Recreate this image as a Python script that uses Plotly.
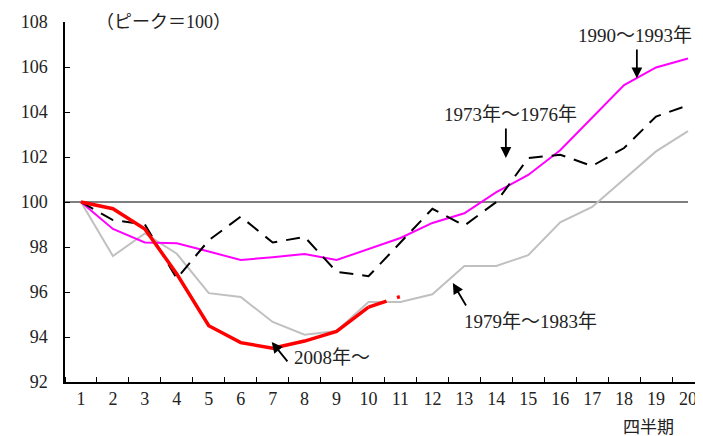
import plotly.graph_objects as go

quarters = list(range(1, 21))
tick_labels = [str(q) for q in quarters]
y_ticks = [92, 94, 96, 98, 100, 102, 104, 106, 108]

s1973 = [100, 99.2, 99.0, 96.6, 98.3, 99.35, 98.2, 98.45, 96.9, 96.7,
         98.2, 99.7, 98.95, 100.0, 101.95, 102.1, 101.6, 102.4, 103.8, 104.3]
s1979 = [100, 97.6, 98.6, 97.7, 95.95, 95.78, 94.67, 94.1, 94.27, 95.56,
         95.56, 95.9, 97.16, 97.16, 97.64, 99.1, 99.78, 101.0, 102.25, 103.15]
s1990 = [100, 98.8, 98.2, 98.17, 97.8, 97.42, 97.55, 97.69, 97.42, 97.9,
         98.4, 99.07, 99.5, 100.44, 101.2, 102.3, 103.75, 105.2, 105.98, 106.38]
s2008_q = list(range(1, 11))
s2008 = [100, 99.7, 98.8, 96.8, 94.5, 93.75, 93.5, 93.82, 94.25, 95.33]
s2008_ext_q = [10, 11]
s2008_ext = [95.33, 95.8]

FONT = "'Liberation Serif', 'Noto Sans CJK JP', serif"

fig = go.Figure()
fig.add_shape(type="line", xref="x", yref="y", x0=0.5, x1=20, y0=100, y1=100,
              line=dict(color="#7f7f7f", width=2), layer="below")
fig.add_trace(go.Scatter(x=quarters, y=s1979, mode="lines",
                         line=dict(color="#c0c0c0", width=2)))
fig.add_trace(go.Scatter(x=quarters, y=s1990, mode="lines",
                         line=dict(color="#ff00ff", width=2)))
fig.add_trace(go.Scatter(x=quarters, y=s1973, mode="lines",
                         line=dict(color="#000000", width=2, dash="14px,9px")))
fig.add_trace(go.Scatter(x=s2008_ext_q, y=s2008_ext, mode="lines",
                         line=dict(color="#ff0000", width=3.5, dash="19px,11px,3px,20px")))
fig.add_trace(go.Scatter(x=s2008_q, y=s2008, mode="lines",
                         line=dict(color="#ff0000", width=3.5)))

def arrow(text, tx, ty, hx, hy, ax, ay):
    fig.add_annotation(x=hx, y=hy, xref="x", yref="y", ax=ax, ay=ay,
                       axref="x", ayref="y", showarrow=True, arrowhead=2,
                       arrowsize=1.2, arrowwidth=1.8, arrowcolor="#000", text="")
    fig.add_annotation(x=tx, y=ty, xref="x", yref="y", text=text, showarrow=False,
                       font=dict(family=FONT, size=19, color="#222"))

arrow("1990～1993年", 18.34, 107.42, 18.4, 105.5, 18.4, 106.84)
arrow("1973年～1976年", 14.43, 103.87, 14.3, 101.96, 14.3, 103.33)
arrow("1979年～1983年", 15.08, 94.67, 12.64, 96.4, 13.08, 95.33)
arrow("2008年～", 8.85, 93.1, 6.97, 93.78, 7.5, 92.85)

fig.add_annotation(x=0.045, y=1.0, xref="paper", yref="paper", text="（ピーク＝100）",
                   showarrow=False, xanchor="left", yanchor="middle",
                   font=dict(family=FONT, size=18, color="#222"))
fig.add_annotation(x=18.75, y=-0.127, xref="x", yref="paper", text="四半期",
                   showarrow=False, yanchor="middle",
                   font=dict(family=FONT, size=17, color="#222"))

fig.update_layout(
    width=695, height=428, showlegend=False,
    margin=dict(l=57, r=0, t=14, b=54),
    paper_bgcolor="white", plot_bgcolor="white",
    font=dict(family=FONT, size=18, color="#222"),
    xaxis=dict(range=[0.5, 20.47], tickvals=quarters, ticktext=tick_labels,
               ticks="", showgrid=False, zeroline=False, showline=True,
               linecolor="#000", linewidth=1.5,
               minor=dict(tick0=0.5, dtick=1, ticks="inside", ticklen=5,
                          tickcolor="#000", tickwidth=1, showgrid=False),
               tickfont=dict(family=FONT, size=18)),
    yaxis=dict(range=[92, 108], tickvals=y_ticks, ticks="inside", ticklen=5,
               tickcolor="#000", showgrid=False, zeroline=False, showline=True,
               linecolor="#000", linewidth=1.5, ticklabelstandoff=12,
               tickfont=dict(family=FONT, size=18)),
)
fig.write_html("out.html")
